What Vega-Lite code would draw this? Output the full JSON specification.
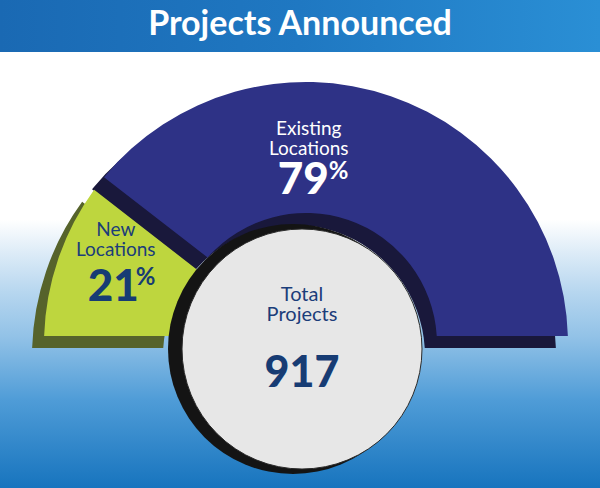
{
  "$schema": "https://vega.github.io/schema/vega-lite/v6.json",
  "width": 600,
  "height": 488,
  "autosize": {"type": "fit", "contains": "padding"},
  "padding": 0,
  "background": "white",
  "config": {"view": {"stroke": null}, "font": "Lato"},
  "datasets": {
    "share": [
      {"category": "New Locations", "value": 21},
      {"category": "Existing Locations", "value": 79}
    ],
    "total": [{"label": "Total Projects", "value": 917}],
    "heading": [{"title": "Projects Announced"}]
  },
  "data": {"name": "share"},
  "layer": [
    {
      "data": {"values": [{}]},
      "mark": {
        "type": "rect",
        "fill": {
          "gradient": "linear",
          "x1": 0, "y1": 0, "x2": 0, "y2": 1,
          "stops": [
            {"offset": 0, "color": "#ffffff"},
            {"offset": 0.45, "color": "#ffffff"},
            {"offset": 0.52, "color": "#dcebf7"},
            {"offset": 0.6, "color": "#b6d6ef"},
            {"offset": 0.69, "color": "#92c2e7"},
            {"offset": 0.82, "color": "#4f9cd7"},
            {"offset": 1, "color": "#1774be"}
          ]
        }
      }
    },
    {
      "data": {"values": [{}]},
      "mark": {
        "type": "rect",
        "y": 0,
        "y2": 52,
        "fill": {
          "gradient": "linear",
          "x1": 0, "y1": 0, "x2": 1, "y2": 0,
          "stops": [
            {"offset": 0, "color": "#1a69b3"},
            {"offset": 0.5, "color": "#1f78c2"},
            {"offset": 1, "color": "#2a8fd5"}
          ]
        }
      }
    },
    {
      "data": {"name": "heading"},
      "mark": {"type": "text", "x": {"expr": "width/2"}, "y": 35, "fontSize": 34, "fontWeight": "bold", "align": "center", "baseline": "alphabetic", "color": "#ffffff"},
      "encoding": {"text": {"field": "title"}}
    },
    {
      "mark": {"type": "arc", "x": {"expr": "width/2-6"}, "y": {"expr": "height-132"}, "radius": 262, "radius2": 131, "padAngle": 0.055},
      "encoding": {
        "theta": {"field": "value", "type": "quantitative", "stack": true, "scale": {"range": [-1.5708, 1.5708]}},
        "order": {"field": "category", "sort": "descending"},
        "detail": {"field": "category"},
        "color": {"condition": {"test": "datum.category === 'New Locations'", "value": "#56632b"}, "value": "#19183b"}
      }
    },
    {
      "mark": {"type": "arc", "x": {"expr": "width/2+6"}, "y": {"expr": "height-144"}, "radius": 262, "radius2": 131, "padAngle": 0.055},
      "encoding": {
        "theta": {"field": "value", "type": "quantitative", "stack": true, "scale": {"range": [-1.5708, 1.5708]}},
        "order": {"field": "category", "sort": "descending"},
        "detail": {"field": "category"},
        "color": {"condition": {"test": "datum.category === 'New Locations'", "value": "#bed63e"}, "value": "#2e3286"}
      }
    },
    {
      "data": {"values": [{}]},
      "mark": {"type": "arc", "x": {"expr": "width/2-7"}, "y": {"expr": "height-139"}, "theta": 0, "theta2": 6.2832, "radius": 125, "fill": "#141414"}
    },
    {
      "data": {"values": [{}]},
      "mark": {"type": "arc", "x": {"expr": "width/2+2"}, "y": {"expr": "height-139"}, "theta": 0, "theta2": 6.2832, "radius": 120, "fill": "#e7e7e7", "stroke": "#2a2a2a", "strokeWidth": 1}
    },
    {
      "mark": {"type": "text", "x": {"expr": "width/2+6"}, "y": {"expr": "height-144"}, "radius": 200, "lineBreak": " ", "lineHeight": 20, "fontSize": 19, "align": "center", "baseline": "alphabetic",
        "dx": {"expr": "datum.category === 'New Locations' ? -1 : -62"},
        "dy": {"expr": "datum.category === 'New Locations' ? -43 : -20"}},
      "encoding": {
        "theta": {"field": "value", "type": "quantitative", "stack": true, "scale": {"range": [-1.5708, 1.5708]}},
        "order": {"field": "category", "sort": "descending"},
        "detail": {"field": "category"},
        "text": {"field": "category"},
        "color": {"condition": {"test": "datum.category === 'New Locations'", "value": "#1b3d7a"}, "value": "#ffffff"}
      }
    },
    {
      "mark": {"type": "text", "x": {"expr": "width/2+6"}, "y": {"expr": "height-144"}, "radius": 200, "fontSize": 44, "fontWeight": 900, "align": "right", "baseline": "alphabetic",
        "dx": {"expr": "datum.category === 'New Locations' ? 22 : -42"},
        "dy": {"expr": "datum.category === 'New Locations' ? 22 : 39"}},
      "encoding": {
        "theta": {"field": "value", "type": "quantitative", "stack": true, "scale": {"range": [-1.5708, 1.5708]}},
        "order": {"field": "category", "sort": "descending"},
        "detail": {"field": "category"},
        "text": {"field": "value"},
        "color": {"condition": {"test": "datum.category === 'New Locations'", "value": "#173c74"}, "value": "#ffffff"}
      }
    },
    {
      "mark": {"type": "text", "x": {"expr": "width/2+6"}, "y": {"expr": "height-144"}, "radius": 200, "fontSize": 24, "fontWeight": "bold", "align": "left", "baseline": "alphabetic",
        "dx": {"expr": "datum.category === 'New Locations' ? 19 : -42"},
        "dy": {"expr": "datum.category === 'New Locations' ? 6 : 24"}},
      "encoding": {
        "theta": {"field": "value", "type": "quantitative", "stack": true, "scale": {"range": [-1.5708, 1.5708]}},
        "order": {"field": "category", "sort": "descending"},
        "detail": {"field": "category"},
        "text": {"value": "%"},
        "color": {"condition": {"test": "datum.category === 'New Locations'", "value": "#173c74"}, "value": "#ffffff"}
      }
    },
    {
      "data": {"name": "total"},
      "mark": {"type": "text", "x": {"expr": "width/2+2"}, "y": {"expr": "height-187"}, "lineBreak": " ", "lineHeight": 20, "fontSize": 20, "align": "center", "baseline": "alphabetic", "color": "#1b3d7a"},
      "encoding": {"text": {"field": "label"}}
    },
    {
      "data": {"name": "total"},
      "mark": {"type": "text", "x": {"expr": "width/2+2"}, "y": {"expr": "height-101"}, "fontSize": 43, "fontWeight": 900, "align": "center", "baseline": "alphabetic", "color": "#173c74"},
      "encoding": {"text": {"field": "value"}}
    }
  ]
}
